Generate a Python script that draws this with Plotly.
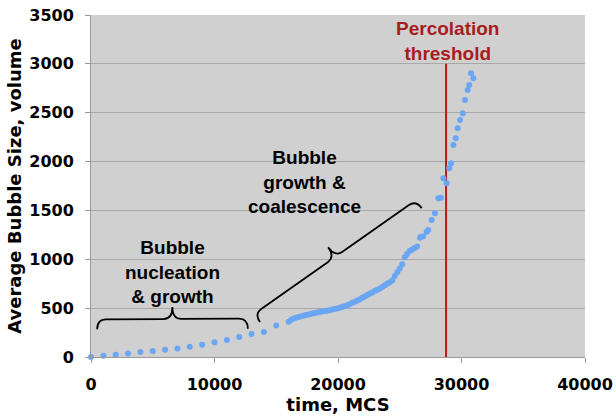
import math
import plotly.graph_objects as go

# Simulation output: average bubble size vs. Monte Carlo steps
time_early = [0, 1000, 2000, 3000, 4000, 5000, 6000, 7000, 8000, 9000,
              10000, 11000, 12000, 13000, 14000, 15000]
size_early = [0, 12, 24, 37, 50, 62, 75, 87, 105, 125,
              150, 174, 205, 235, 255, 322]

time_mid = [16000, 16200, 16400, 16600, 16800, 17000, 17200, 17400, 17600, 17800,
            18000, 18200, 18400, 18600, 18800, 19000, 19200, 19400, 19600, 19800,
            20000, 20200, 20400, 20600, 20800, 21000, 21200, 21400, 21600, 21800,
            22000, 22200, 22400, 22600, 22800, 23000, 23200, 23400, 23600, 23800,
            24000, 24200, 24400, 24600, 24800, 25000, 25200, 25400, 25600, 25800,
            26000, 26200, 26400]
size_mid = [360, 378, 395, 402, 410, 417, 423, 429, 435, 441,
            447, 452, 457, 462, 467, 472, 477, 482, 488, 494,
            500, 506, 513, 521, 532, 545, 557, 568, 580, 592,
            610, 622, 636, 650, 662, 678, 688, 702, 716, 735,
            752, 764, 785, 830, 868, 905, 950, 1020, 1055, 1085,
            1100, 1115, 1130]

time_late = [26640, 26720, 26900, 27180, 27300, 27580, 27850, 28130, 28340, 28530,
             28800, 29010, 29150, 29340, 29530, 29690, 29880, 30100, 30280, 30500,
             30630, 30770, 30960]
size_late = [1221, 1231, 1235, 1282, 1300, 1402, 1470, 1624, 1630, 1829,
             1777, 1931, 1982, 2170, 2238, 2340, 2425, 2494, 2630, 2732,
             2783, 2903, 2852]

percolation_time = 28750
percolation_top = 3000

x_ticks = [0, 10000, 20000, 30000, 40000]
y_ticks = [0, 500, 1000, 1500, 2000, 2500, 3000, 3500]
X_MAX, Y_MAX = 40000, 3500

W, H = 616, 417
M_L, M_R, M_T, M_B = 91, 31, 15, 60
kx = (W - M_L - M_R) / X_MAX
ky = (H - M_T - M_B) / Y_MAX

times = time_early + time_mid + time_late
sizes = size_early + size_mid + size_late


def brace_path(x0, y0, x1, y1, depth=22, rise=10, r=9):
    """Curly brace from (x0,y0) to (x1,y1) in data units, tip on the left-hand side."""
    X0, Y0, X1, Y1 = x0 * kx, y0 * ky, x1 * kx, y1 * ky
    L = math.hypot(X1 - X0, Y1 - Y0)
    tx, ty = (X1 - X0) / L, (Y1 - Y0) / L
    nx, ny = -ty, tx

    def pt(u, v):
        X = X0 + u * tx + v * nx
        Y = Y0 + u * ty + v * ny
        return f"{X / kx:.1f},{Y / ky:.2f}"

    m = L / 2
    return (f"M{pt(0, 0)} Q{pt(0, rise)} {pt(r, rise)} L{pt(m - r, rise)} "
            f"Q{pt(m, rise)} {pt(m, depth)} Q{pt(m, rise)} {pt(m + r, rise)} "
            f"L{pt(L - r, rise)} Q{pt(L, rise)} {pt(L, 0)}")


def bold(s):
    return f"<b>{s}</b>"


fig = go.Figure()
fig.add_trace(go.Scatter(
    x=times, y=sizes, mode="markers",
    marker=dict(size=6, color="#6aa6f3"),
    cliponaxis=False, showlegend=False,
))

brace_style = dict(type="path", xref="x", yref="y",
                   line=dict(color="black", width=1.8))
fig.add_shape(path=brace_path(500, 283, 12700, 290), **brace_style)
fig.add_shape(path=brace_path(13680, 358, 26780, 1522), **brace_style)

fig.add_shape(type="line", xref="x", yref="y",
              x0=percolation_time, x1=percolation_time, y0=0, y1=percolation_top,
              line=dict(color="#b01e1e", width=2), layer="between")

label_font = dict(family="Liberation Sans", size=19, color="black")
fig.add_annotation(x=6560, y=873,
                   text="<br>".join(bold(s) for s in ["Bubble", "nucleation", "&amp; growth"]),
                   showarrow=False, font=label_font, xanchor="center", yanchor="middle")
fig.add_annotation(x=17250, y=1794,
                   text="<br>".join(bold(s) for s in ["Bubble", "growth &amp;", "coalescence"]),
                   showarrow=False, font=label_font, xanchor="center", yanchor="middle")
fig.add_annotation(x=28900, y=3239,
                   text="<br>".join(bold(s) for s in ["Percolation", "threshold"]),
                   showarrow=False, font=dict(label_font, color="#a81c1c"),
                   xanchor="center", yanchor="middle")

tick_font = dict(family="DejaVu Sans", size=16, color="black")
title_font = dict(family="DejaVu Sans", size=18, color="black")

fig.update_layout(
    width=W, height=H,
    margin=dict(l=M_L, r=M_R, t=M_T, b=M_B, autoexpand=False),
    paper_bgcolor="white", plot_bgcolor="#d0d0d0",
    xaxis=dict(range=[0, X_MAX], tickvals=x_ticks, ticktext=[bold(v) for v in x_ticks],
               showgrid=False, zeroline=False, showline=True, linecolor="#9a9a9a",
               ticks="outside", ticklen=5, tickcolor="#9a9a9a",
               tickfont=tick_font, ticklabelstandoff=8,
               title=dict(text=bold("time, MCS"), font=title_font, standoff=4)),
    yaxis=dict(range=[0, Y_MAX], tickvals=y_ticks, ticktext=[bold(v) for v in y_ticks],
               showgrid=True, gridcolor="#a8a8a8", gridwidth=1,
               zeroline=False, showline=True, linecolor="#9a9a9a",
               ticks="outside", ticklen=5, tickcolor="#9a9a9a",
               tickfont=tick_font, ticklabelstandoff=8,
               title=dict(text=bold("Average Bubble Size, volume"), font=title_font, standoff=2)),
)

fig.write_html("out.html")
